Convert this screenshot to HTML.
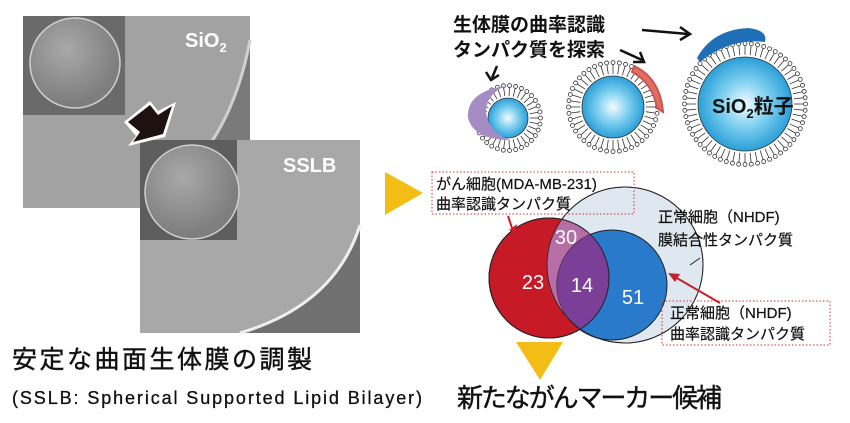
<!DOCTYPE html>
<html><head><meta charset="utf-8"><style>
body{margin:0;width:850px;height:423px;background:#fff;overflow:hidden;font-family:"Liberation Sans","Noto Sans CJK JP",sans-serif}
svg{position:absolute;left:0;top:0}
</style></head><body>
<svg id="s" width="850" height="423" viewBox="0 0 850 423" font-family="Liberation Sans, Noto Sans CJK JP, sans-serif">
<defs>
<radialGradient id="core" cx="50%" cy="50%" r="50%"><stop offset="0" stop-color="#f4fbff"/><stop offset="0.5" stop-color="#7fd0f0"/><stop offset="1" stop-color="#2a9fd8"/></radialGradient>
<radialGradient id="ball" cx="40%" cy="35%" r="60%"><stop offset="0" stop-color="#a9a9a9"/><stop offset="1" stop-color="#7e7e7e"/></radialGradient>
</defs>
<!-- SEM 1 -->
<rect x="23" y="16" width="227" height="192" fill="#a2a2a2"/>
<path d="M250 40 Q228 160 140 208 L250 208Z" fill="#7a7a7a"/>
<path d="M250 40 Q228 160 140 208" stroke="#d0d0d0" stroke-width="3" fill="none"/>
<rect x="23" y="16" width="102" height="99" fill="#6a6a6a"/>
<circle cx="75" cy="63" r="45" fill="url(#ball)" stroke="#d0d0d0" stroke-width="1.5"/>
<text x="185" y="47" font-size="20" font-weight="bold" fill="#fff">SiO<tspan font-size="13" dy="5">2</tspan></text>
<!-- SEM 2 -->
<rect x="140" y="140" width="220" height="193" fill="#a8a8a8"/>
<path d="M360 225 Q335 305 240 333 L360 333Z" fill="#707070"/>
<path d="M360 225 Q335 305 240 333" stroke="#eee" stroke-width="3" fill="none"/>
<rect x="140" y="140" width="97" height="100" fill="#5e5e5e"/>
<circle cx="192" cy="192" r="47" fill="url(#ball)" stroke="#d0d0d0" stroke-width="1.5"/>
<text x="283" y="172" font-size="20" font-weight="bold" fill="#fff">SSLB</text>
<!-- black arrow -->
<polygon points="124,122 150,101 158,111 176,102 165,137 128,146 136,136" fill="#fff"/>
<polygon points="128,122 150,105 158,115 172,106 163,134 133,142 140,132" fill="#1e1210"/>
<text x="12" y="368" font-size="25" fill="#111" stroke="#111" stroke-width="0.4" textLength="300">安定な曲面生体膜の調製</text>
<text x="12" y="404" font-size="18" fill="#111" stroke="#111" stroke-width="0.3" textLength="410">(SSLB: Spherical Supported Lipid Bilayer)</text>
<!-- yellow arrows -->
<polygon points="385,172 423,193 385,215" fill="#f2bd15"/>
<polygon points="516,342 563,342 540,380" fill="#f2bd15"/>
<!-- Venn -->
<circle cx="625" cy="265" r="78" fill="#dfe8f1" stroke="#222" stroke-width="1"/>
<circle cx="549" cy="278" r="60" fill="#c61a26" stroke="#222" stroke-width="1"/>
<clipPath id="cr"><circle cx="549" cy="278" r="60"/></clipPath>
<circle cx="625" cy="265" r="78" fill="#b56ea6" clip-path="url(#cr)"/>
<circle cx="612" cy="285" r="55" fill="#2a7acb" stroke="#222" stroke-width="1"/>
<circle cx="612" cy="285" r="55" fill="#7b3f97" clip-path="url(#cr)"/>
<circle cx="549" cy="278" r="60" fill="none" stroke="#222" stroke-width="1"/>
<circle cx="625" cy="265" r="78" fill="none" stroke="#222" stroke-width="0.8"/>
<g font-size="20" fill="#fff" text-anchor="middle"><text x="533" y="289">23</text><text x="566" y="244">30</text><text x="582" y="292">14</text><text x="633" y="304">51</text></g>
<rect x="432" y="172" width="202" height="42" fill="none" stroke="#c33" stroke-width="1" stroke-dasharray="1.5,2"/>
<text x="436" y="189" font-size="15" fill="#111" stroke="#111" stroke-width="0.2">がん細胞(MDA-MB-231)</text>
<text x="436" y="209" font-size="15" fill="#111" stroke="#111" stroke-width="0.2">曲率認識タンパク質</text>
<text x="658" y="222" font-size="15" fill="#111" stroke="#111" stroke-width="0.2">正常細胞（NHDF)</text>
<text x="658" y="245" font-size="15" fill="#111" stroke="#111" stroke-width="0.2">膜結合性タンパク質</text>
<line x1="700" y1="258" x2="690" y2="265" stroke="#222"/>
<rect x="662" y="301" width="168" height="44" fill="none" stroke="#c33" stroke-width="1" stroke-dasharray="1.5,2"/>
<text x="670" y="318" font-size="15" fill="#111" stroke="#111" stroke-width="0.2">正常細胞（NHDF)</text>
<text x="670" y="339" font-size="15" fill="#111" stroke="#111" stroke-width="0.2">曲率認識タンパク質</text>
<line x1="508" y1="216" x2="512" y2="228" stroke="#c8202a" stroke-width="2"/>
<polygon points="509,230 517,224 515,233" fill="#c8202a"/>
<line x1="720" y1="303" x2="675" y2="277" stroke="#c8202a" stroke-width="2"/>
<polygon points="668,273 680,274 675,282" fill="#c8202a"/>
<text x="457" y="407" font-size="26" fill="#111" stroke="#111" stroke-width="0.4" textLength="265">新たながんマーカー候補</text>
<!-- top right -->
<text x="453" y="31" font-size="19" font-weight="bold" fill="#111">生体膜の曲率認識</text>
<text x="453" y="56" font-size="19" font-weight="bold" fill="#111">タンパク質を探索</text>
<g stroke="#111" stroke-width="2.5" fill="none">
<path d="M642 30 L688 34"/><path d="M680 27 L690 34 L680 40"/>
<path d="M620 50 L642 60"/><path d="M633 62 L644 62 L640 52"/>
<path d="M497 66 L492 78"/><path d="M486 72 L491 80 L499 75"/>
</g>
<g id="ves"></g>
<path d="M468 118 Q466 92 505 86 Q486 95 486 112 Q488 132 510 140 Q474 140 468 118Z" fill="#a58cc4"/>
<path d="M634 66 Q660 78 663 112 L657 108 Q652 82 632 72Z" fill="#e07060" stroke="#c55" stroke-width="2"/>
<path d="M697 58 Q712 30 748 28 Q768 30 765 42 Q730 38 700 62Z" fill="#1f6fb6"/>
<text x="712" y="113" font-size="20" font-weight="bold" fill="#111">SiO<tspan font-size="13" dy="5">2</tspan><tspan dy="-5">粒子</tspan></text>
</svg>
<script>
var g=document.getElementById('ves'),h='';
[[508,118,20,34],[613,107,31,46],[745,104,47,62]].forEach(function(v){
var cx=v[0],cy=v[1],rc=v[2],ro=v[3];
var n=Math.round(2*Math.PI*ro/6.5);
for(var i=0;i<n;i++){var a=2*Math.PI*i/n,c=Math.cos(a),s=Math.sin(a);
var r1=rc+2,r2=ro-3;
h+='<line x1="'+(cx+c*r1)+'" y1="'+(cy+s*r1)+'" x2="'+(cx+c*r2)+'" y2="'+(cy+s*r2)+'" stroke="#333" stroke-width="0.8"/>';
h+='<circle cx="'+(cx+c*(ro-1.5))+'" cy="'+(cy+s*(ro-1.5))+'" r="2" fill="#fff" stroke="#333" stroke-width="0.8"/>';}
h+='<circle cx="'+cx+'" cy="'+cy+'" r="'+rc+'" fill="url(#core)" stroke="#333" stroke-width="0.8"/>';
});
g.innerHTML=h;
</script>
</body></html>
